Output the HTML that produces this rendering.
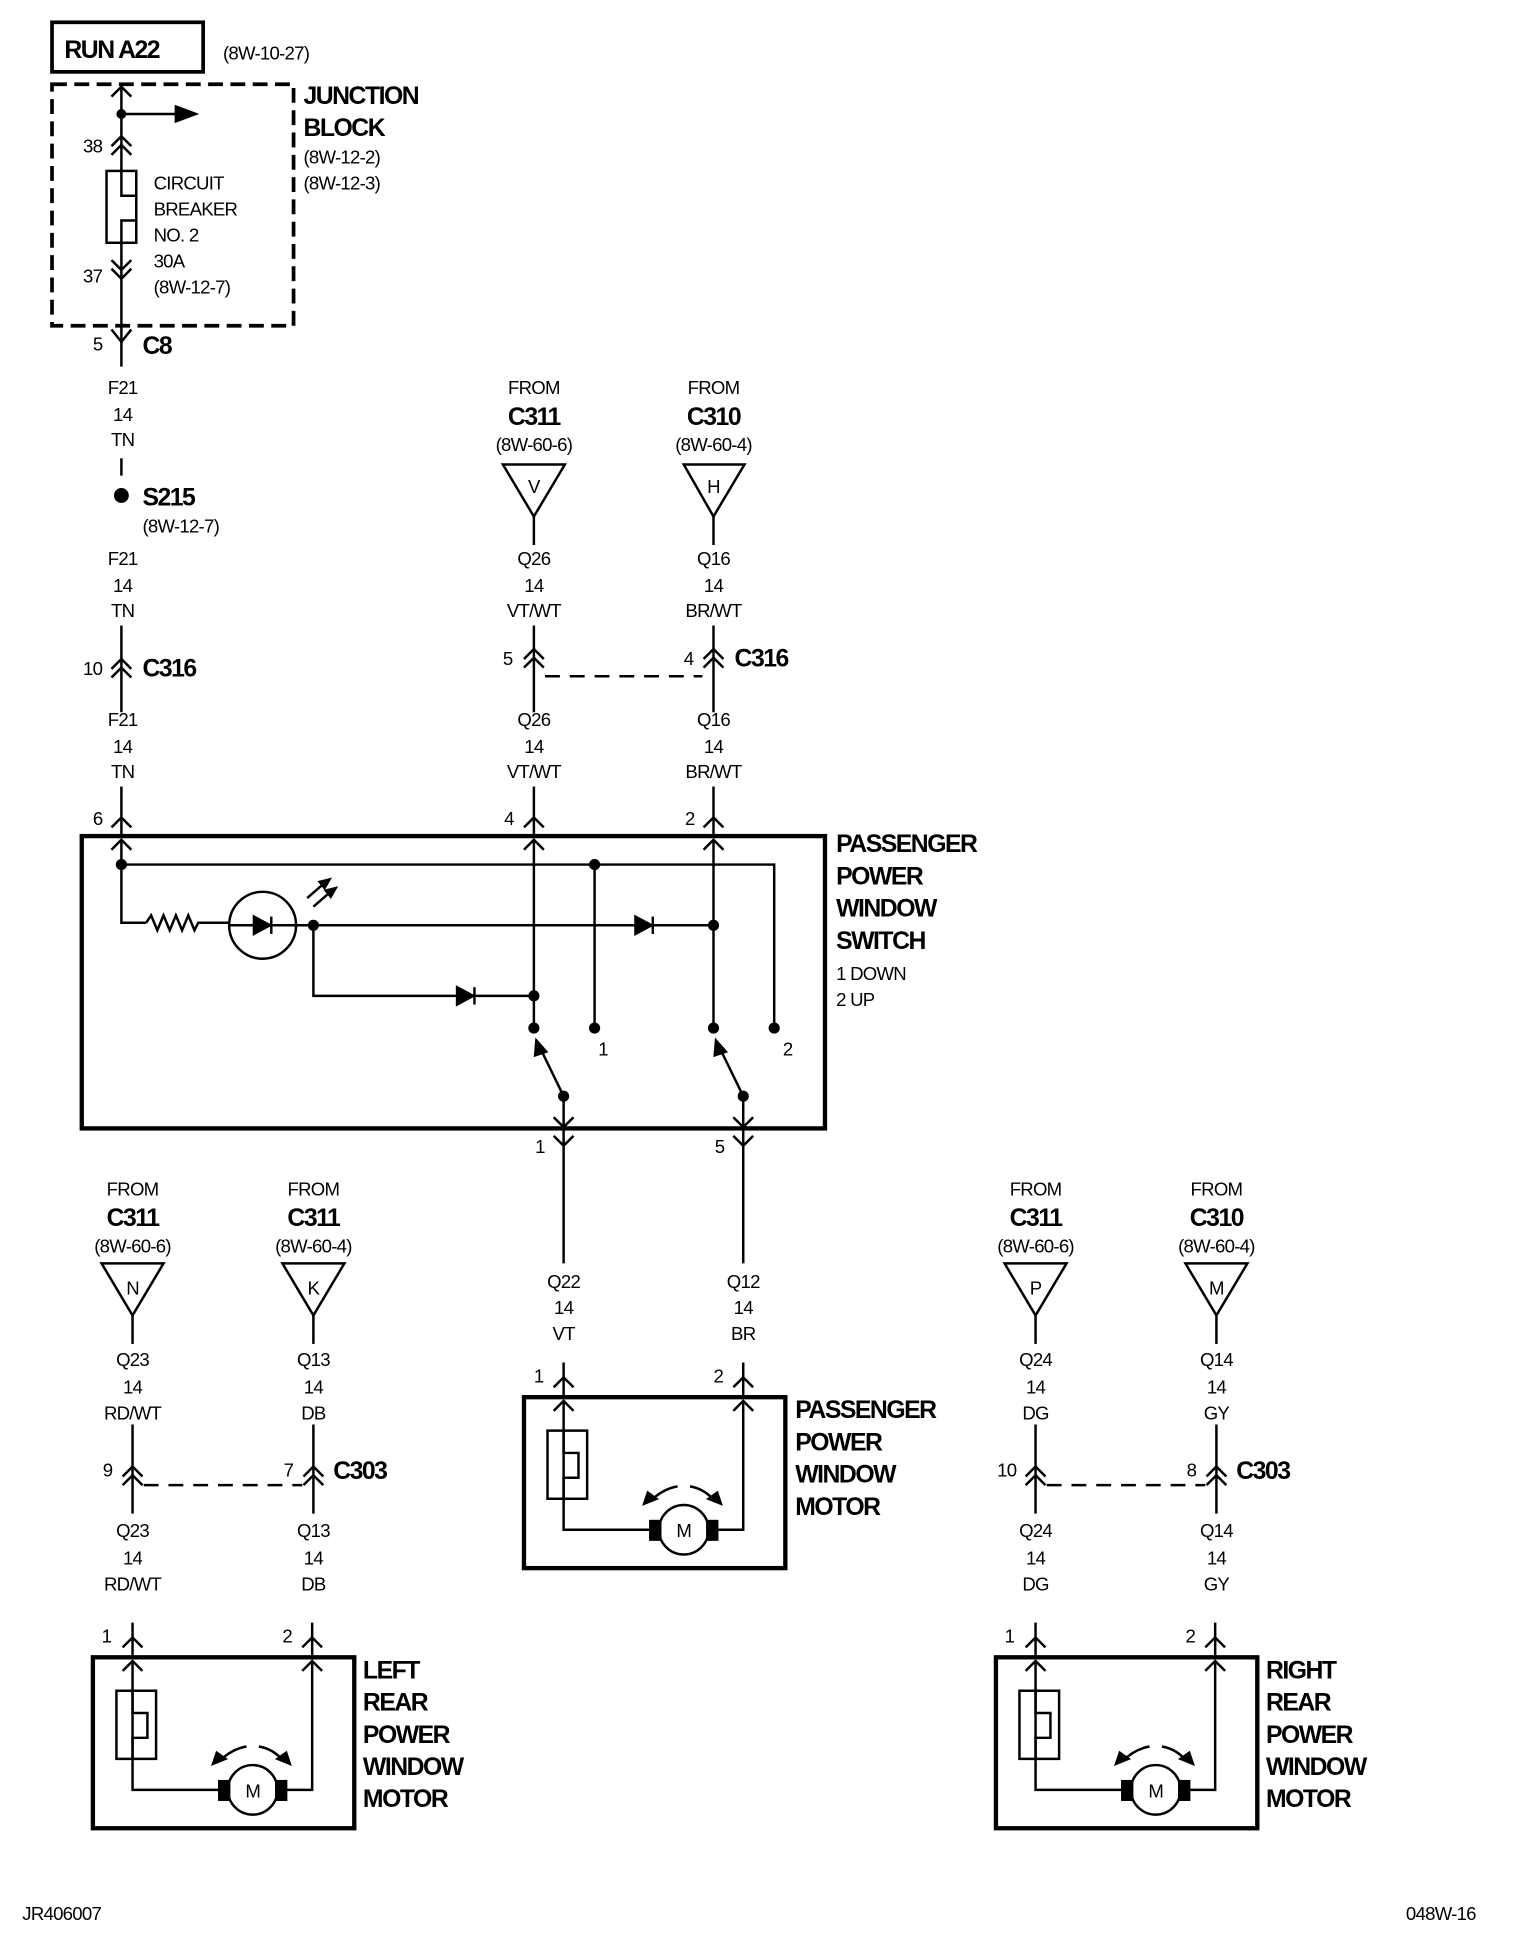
<!DOCTYPE html>
<html><head><meta charset="utf-8"><style>
html,body{margin:0;padding:0;background:#fff}
svg{display:block}
text{font-family:"Liberation Sans",sans-serif;fill:#000}
.s{font-size:15px;text-anchor:middle;letter-spacing:-0.6px}
.b{font-size:20px;font-weight:bold;letter-spacing:-1.2px}
.bc{font-size:20px;font-weight:bold;text-anchor:middle;letter-spacing:-1.2px}
.l{font-size:15px;letter-spacing:-0.6px}
</style></head><body>
<svg width="1536" height="1936" viewBox="0 0 1240 1563" preserveAspectRatio="none" xmlns="http://www.w3.org/2000/svg">
<defs>
<g id="motor" fill="none" stroke="#000" stroke-width="2">
 <rect x="-32" y="0" width="211" height="138" stroke-width="3.5"/>
 <polyline points="-8,-8 0,-16 8,-8"/><polyline points="137,-8 145,-16 153,-8"/>
 <line x1="0" y1="-28" x2="0" y2="0"/><line x1="145" y1="-28" x2="145" y2="0"/>
 <polyline points="-8,11 0,3 8,11"/><polyline points="137,11 145,3 153,11"/>
 <polyline points="0,3 0,107 70,107"/><polyline points="124,107 145,107 145,3"/>
 <rect x="-13" y="27" width="32" height="55"/>
 <polyline points="0,27 0,45 12,45 12,65 0,65 0,82"/>
 <circle cx="97" cy="107" r="20"/>
 <rect x="70" y="100" width="8" height="15" fill="#000"/><rect x="116" y="100" width="8" height="15" fill="#000"/>
 <path d="M92,72 Q80,74 70,84"/><path d="M102,72 Q114,74 122,84"/>
 <polygon points="65,86 68,77 75,82" fill="#000"/><polygon points="127,86 124,77 117,82" fill="#000"/>
</g>
</defs>
<g fill="none" stroke="#000" stroke-width="2">
 <rect x="42" y="18" width="122" height="40" stroke-width="3"/>
 <rect x="42" y="68" width="195" height="195" stroke-width="3" stroke-dasharray="12,6"/>
 <line x1="98" y1="68" x2="98" y2="138"/><line x1="98" y1="196" x2="98" y2="296"/>
 <polyline points="90,78 98,70 106,78"/>
 <line x1="98" y1="92" x2="150" y2="92"/><polygon points="158,92 142,86 142,98" fill="#000"/>
 <polyline points="90,118 98,110 106,118"/><polyline points="90,125 98,117 106,125"/>
 <rect x="86" y="138" width="24" height="58"/><polyline points="98,138 98,158 110,158 110,178 98,178 98,196"/>
 <polyline points="90,210 98,218 106,210"/><polyline points="90,217 98,225 106,217"/>
 <polyline points="90,266 98,276 106,266"/>
 <line x1="98" y1="370" x2="98" y2="384"/>
 <line x1="98" y1="505" x2="98" y2="575"/><line x1="98" y1="635" x2="98" y2="675"/>
 <polyline points="90,540 98,532 106,540"/><polyline points="90,547 98,539 106,547"/>
 <polyline points="90,668 98,660 106,668"/>
 <polygon points="406,375 456,375 431,417"/><polygon points="552,375 601,375 576,417"/>
 <line x1="431" y1="417" x2="431" y2="440"/><line x1="576" y1="417" x2="576" y2="440"/>
 <line x1="431" y1="505" x2="431" y2="575"/><line x1="576" y1="505" x2="576" y2="575"/>
 <polyline points="423,532 431,524 439,532"/><polyline points="423,539 431,531 439,539"/>
 <polyline points="568,532 576,524 584,532"/><polyline points="568,539 576,531 584,539"/>
 <line x1="440" y1="546" x2="567" y2="546" stroke-dasharray="12,8"/>
 <line x1="431" y1="635" x2="431" y2="675"/><line x1="576" y1="635" x2="576" y2="675"/>
 <polyline points="423,668 431,660 439,668"/><polyline points="568,668 576,660 584,668"/>
 <rect x="66" y="675" width="600" height="236" stroke-width="3.5"/>
 <polyline points="90,686 98,678 106,686"/><polyline points="423,686 431,678 439,686"/><polyline points="568,686 576,678 584,686"/>
 <polyline points="98,678 98,745 118,745"/>
 <polyline points="98,698 625,698 625,830"/>
 <line x1="480" y1="698" x2="480" y2="830"/>
 <polyline points="118,745 122,739 127,751 132,739 137,751 142,739 147,751 152,739 157,751 160,745 185,745"/>
 <circle cx="212" cy="747" r="27"/>
 <line x1="185" y1="747" x2="576" y2="747"/>
 <polygon points="205,740 205,754 218,747" fill="#000"/><line x1="219" y1="740" x2="219" y2="754"/>
 <line x1="248" y1="725" x2="263" y2="712"/><polygon points="266,710 258,712 262,717" fill="#000"/>
 <line x1="253" y1="732" x2="268" y2="719"/><polygon points="271,717 263,719 267,724" fill="#000"/>
 <polygon points="513,740 513,754 526,747" fill="#000"/><line x1="527" y1="740" x2="527" y2="754"/>
 <polyline points="253,747 253,804 431,804"/>
 <polygon points="369,797 369,811 382,804" fill="#000"/><line x1="383" y1="797" x2="383" y2="811"/>
 <line x1="431" y1="678" x2="431" y2="830"/><line x1="576" y1="678" x2="576" y2="830"/>
 <line x1="455" y1="885" x2="437" y2="848"/><polygon points="433,840 432,852 441,849" fill="#000"/>
 <line x1="600" y1="885" x2="582" y2="848"/><polygon points="578,840 577,852 586,849" fill="#000"/>
 <line x1="455" y1="885" x2="455" y2="1020"/><line x1="600" y1="885" x2="600" y2="1020"/>
 <polyline points="447,902 455,910 463,902"/><polyline points="592,902 600,910 608,902"/>
 <polyline points="447,917 455,925 463,917"/><polyline points="592,917 600,925 608,917"/>
 <polygon points="82,1020 132,1020 107,1062"/><polygon points="228,1020 278,1020 253,1062"/>
 <polygon points="811,1020 861,1020 836,1062"/><polygon points="957,1020 1007,1020 982,1062"/>
 <line x1="107" y1="1062" x2="107" y2="1085"/><line x1="253" y1="1062" x2="253" y2="1085"/>
 <line x1="836" y1="1062" x2="836" y2="1085"/><line x1="982" y1="1062" x2="982" y2="1085"/>
 <line x1="107" y1="1150" x2="107" y2="1222"/><line x1="253" y1="1150" x2="253" y2="1222"/>
 <line x1="836" y1="1150" x2="836" y2="1222"/><line x1="982" y1="1150" x2="982" y2="1222"/>
 <polyline points="99,1192 107,1184 115,1192"/><polyline points="99,1199 107,1191 115,1199"/>
 <polyline points="245,1192 253,1184 261,1192"/><polyline points="245,1199 253,1191 261,1199"/>
 <polyline points="828,1192 836,1184 844,1192"/><polyline points="828,1199 836,1191 844,1199"/>
 <polyline points="974,1192 982,1184 990,1192"/><polyline points="974,1199 982,1191 990,1199"/>
 <line x1="116" y1="1199" x2="244" y2="1199" stroke-dasharray="12,8"/>
 <line x1="845" y1="1199" x2="973" y2="1199" stroke-dasharray="12,8"/>
</g>
<g fill="#000">
 <circle cx="98" cy="92" r="4"/><circle cx="98" cy="400" r="6"/>
 <circle cx="98" cy="698" r="4.5"/><circle cx="480" cy="698" r="4.5"/>
 <circle cx="253" cy="747" r="4.5"/><circle cx="576" cy="747" r="4.5"/><circle cx="431" cy="804" r="4.5"/>
 <circle cx="431" cy="830" r="4.5"/><circle cx="480" cy="830" r="4.5"/><circle cx="576" cy="830" r="4.5"/><circle cx="625" cy="830" r="4.5"/>
 <circle cx="455" cy="885" r="4.5"/><circle cx="600" cy="885" r="4.5"/>
</g>
<use href="#motor" transform="translate(455,1128)"/>
<use href="#motor" transform="translate(107,1338)"/>
<use href="#motor" transform="translate(836,1338)"/>
<text x="52" y="47" class="b">RUN A22</text>
<text x="180" y="48" class="l">(8W-10-27)</text>
<text x="245" y="84" class="b">JUNCTION</text><text x="245" y="110" class="b">BLOCK</text>
<text x="245" y="132" class="l">(8W-12-2)</text><text x="245" y="153" class="l">(8W-12-3)</text>
<text x="67" y="123" class="l">38</text><text x="67" y="228" class="l">37</text>
<text x="124" y="153" class="l">CIRCUIT</text><text x="124" y="174" class="l">BREAKER</text><text x="124" y="195" class="l">NO. 2</text><text x="124" y="216" class="l">30A</text><text x="124" y="237" class="l">(8W-12-7)</text>
<text x="75" y="283" class="l">5</text><text x="115" y="286" class="b">C8</text>
<text x="99" y="318" class="s">F21</text><text x="99" y="340" class="s">14</text><text x="99" y="360" class="s">TN</text>
<text x="115" y="408" class="b">S215</text><text x="115" y="430" class="l">(8W-12-7)</text>
<text x="99" y="456" class="s">F21</text><text x="99" y="478" class="s">14</text><text x="99" y="498" class="s">TN</text>
<text x="67" y="545" class="l">10</text><text x="115" y="546" class="b">C316</text>
<text x="99" y="586" class="s">F21</text><text x="99" y="608" class="s">14</text><text x="99" y="628" class="s">TN</text>
<text x="75" y="666" class="l">6</text><text x="407" y="666" class="l">4</text><text x="553" y="666" class="l">2</text>
<text x="431" y="318" class="s">FROM</text><text x="431" y="343" class="bc">C311</text><text x="431" y="364" class="s">(8W-60-6)</text><text x="431" y="398" class="s">V</text>
<text x="576" y="318" class="s">FROM</text><text x="576" y="343" class="bc">C310</text><text x="576" y="364" class="s">(8W-60-4)</text><text x="576" y="398" class="s">H</text>
<text x="431" y="456" class="s">Q26</text><text x="431" y="478" class="s">14</text><text x="431" y="498" class="s">VT/WT</text>
<text x="576" y="456" class="s">Q16</text><text x="576" y="478" class="s">14</text><text x="576" y="498" class="s">BR/WT</text>
<text x="406" y="537" class="l">5</text><text x="552" y="537" class="l">4</text><text x="593" y="538" class="b">C316</text>
<text x="431" y="586" class="s">Q26</text><text x="431" y="608" class="s">14</text><text x="431" y="628" class="s">VT/WT</text>
<text x="576" y="586" class="s">Q16</text><text x="576" y="608" class="s">14</text><text x="576" y="628" class="s">BR/WT</text>
<text x="675" y="688" class="b">PASSENGER</text><text x="675" y="714" class="b">POWER</text><text x="675" y="740" class="b">WINDOW</text><text x="675" y="766" class="b">SWITCH</text>
<text x="675" y="791" class="l">1 DOWN</text><text x="675" y="812" class="l">2 UP</text>
<text x="483" y="852" class="l">1</text><text x="632" y="852" class="l">2</text>
<text x="432" y="931" class="l">1</text><text x="577" y="931" class="l">5</text>
<text x="455" y="1040" class="s">Q22</text><text x="455" y="1061" class="s">14</text><text x="455" y="1082" class="s">VT</text>
<text x="600" y="1040" class="s">Q12</text><text x="600" y="1061" class="s">14</text><text x="600" y="1082" class="s">BR</text>
<text x="431" y="1116" class="l">1</text><text x="576" y="1116" class="l">2</text>
<text x="552" y="1241" class="s">M</text>
<text x="642" y="1145" class="b">PASSENGER</text><text x="642" y="1171" class="b">POWER</text><text x="642" y="1197" class="b">WINDOW</text><text x="642" y="1223" class="b">MOTOR</text>
<text x="107" y="965" class="s">FROM</text><text x="107" y="990" class="bc">C311</text><text x="107" y="1011" class="s">(8W-60-6)</text><text x="107" y="1045" class="s">N</text>
<text x="253" y="965" class="s">FROM</text><text x="253" y="990" class="bc">C311</text><text x="253" y="1011" class="s">(8W-60-4)</text><text x="253" y="1045" class="s">K</text>
<text x="836" y="965" class="s">FROM</text><text x="836" y="990" class="bc">C311</text><text x="836" y="1011" class="s">(8W-60-6)</text><text x="836" y="1045" class="s">P</text>
<text x="982" y="965" class="s">FROM</text><text x="982" y="990" class="bc">C310</text><text x="982" y="1011" class="s">(8W-60-4)</text><text x="982" y="1045" class="s">M</text>
<text x="107" y="1103" class="s">Q23</text><text x="107" y="1125" class="s">14</text><text x="107" y="1146" class="s">RD/WT</text>
<text x="253" y="1103" class="s">Q13</text><text x="253" y="1125" class="s">14</text><text x="253" y="1146" class="s">DB</text>
<text x="836" y="1103" class="s">Q24</text><text x="836" y="1125" class="s">14</text><text x="836" y="1146" class="s">DG</text>
<text x="982" y="1103" class="s">Q14</text><text x="982" y="1125" class="s">14</text><text x="982" y="1146" class="s">GY</text>
<text x="83" y="1192" class="l">9</text><text x="229" y="1192" class="l">7</text><text x="269" y="1194" class="b">C303</text>
<text x="805" y="1192" class="l">10</text><text x="958" y="1192" class="l">8</text><text x="998" y="1194" class="b">C303</text>
<text x="107" y="1241" class="s">Q23</text><text x="107" y="1263" class="s">14</text><text x="107" y="1284" class="s">RD/WT</text>
<text x="253" y="1241" class="s">Q13</text><text x="253" y="1263" class="s">14</text><text x="253" y="1284" class="s">DB</text>
<text x="836" y="1241" class="s">Q24</text><text x="836" y="1263" class="s">14</text><text x="836" y="1284" class="s">DG</text>
<text x="982" y="1241" class="s">Q14</text><text x="982" y="1263" class="s">14</text><text x="982" y="1284" class="s">GY</text>
<text x="82" y="1326" class="l">1</text><text x="228" y="1326" class="l">2</text>
<text x="811" y="1326" class="l">1</text><text x="957" y="1326" class="l">2</text>
<text x="204" y="1451" class="s">M</text><text x="933" y="1451" class="s">M</text>
<text x="293" y="1355" class="b">LEFT</text><text x="293" y="1381" class="b">REAR</text><text x="293" y="1407" class="b">POWER</text><text x="293" y="1433" class="b">WINDOW</text><text x="293" y="1459" class="b">MOTOR</text>
<text x="1022" y="1355" class="b">RIGHT</text><text x="1022" y="1381" class="b">REAR</text><text x="1022" y="1407" class="b">POWER</text><text x="1022" y="1433" class="b">WINDOW</text><text x="1022" y="1459" class="b">MOTOR</text>
<text x="18" y="1550" class="l">JR406007</text><text x="1135" y="1550" class="l">048W-16</text>
</svg>
</body></html>
